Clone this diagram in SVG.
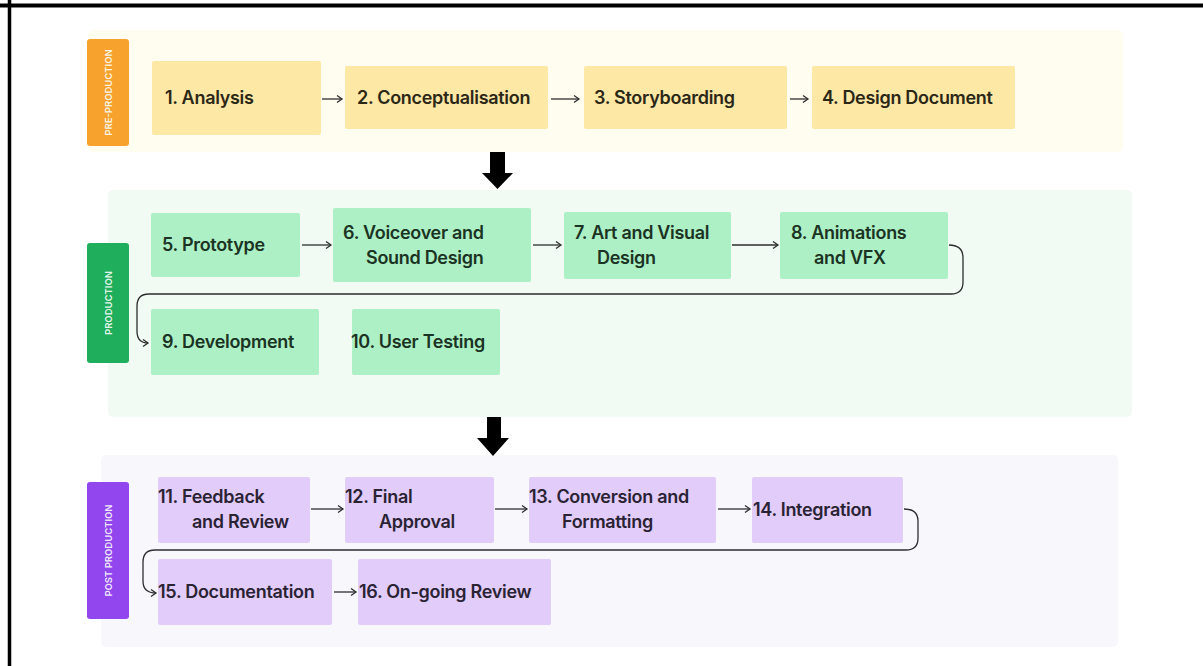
<svg xmlns="http://www.w3.org/2000/svg" width="1203" height="666" viewBox="0 0 1203 666">
<style>
.t{font-family:Inter,"Liberation Sans",sans-serif;font-weight:600;font-size:18px;letter-spacing:-0.3px}
.pre .t{fill:#2b2717}
.pro .t{fill:#1b3323}
.post .t{fill:#2a2334}
.lbl{font-family:Inter,"Liberation Sans",sans-serif;font-weight:600;font-size:9.5px;fill:#ffffff;fill-opacity:0.9;text-anchor:middle}
.bp{fill:#fde8a6}
.bg{fill:#adf0c6}
.bu{fill:#e2ccfa}
.c{fill:none;stroke:#2e2e2e;stroke-width:1.3}
</style>
<defs>
<marker id="ah" markerWidth="10" markerHeight="10" refX="7" refY="5" orient="auto" markerUnits="userSpaceOnUse">
<path d="M2,1.5 L7,5 L2,8.5" fill="none" stroke="#2e2e2e" stroke-width="1.3"/>
</marker>
</defs>
<rect width="1203" height="666" fill="#ffffff"/>
<line x1="0" y1="5.5" x2="1203" y2="5.5" stroke="#000" stroke-width="4"/>
<line x1="9.5" y1="0" x2="9.5" y2="666" stroke="#000" stroke-width="3.5"/>

<g id="section-pre">
<rect x="88" y="30" width="1035" height="122" rx="5" fill="#fffdf0"/>
<rect x="87" y="39" width="42" height="107" rx="3" fill="#f6a22c"/>
<text class="lbl" transform="translate(111.5 92.5) rotate(-90)">PRE-PRODUCTION</text>
</g>
<g id="section-pro">
<rect x="108" y="190" width="1024" height="227" rx="5" fill="#f1fbf4"/>
<rect x="87" y="243" width="42" height="120" rx="3" fill="#1fae5b"/>
<text class="lbl" transform="translate(111.5 303) rotate(-90)">PRODUCTION</text>
</g>
<g id="section-post">
<rect x="101" y="455" width="1017" height="192" rx="5" fill="#f8f7fc"/>
<rect x="87" y="482" width="42" height="137" rx="3" fill="#9146ee"/>
<text class="lbl" transform="translate(111.5 550.5) rotate(-90)">POST PRODUCTION</text>
</g>

<g class="pre">
<g id="n1"><rect class="bp" x="152" y="61" width="169" height="74" rx="2"/><text class="t" x="165" y="104">1. Analysis</text></g>
<g id="n2"><rect class="bp" x="345" y="66" width="203" height="63" rx="2"/><text class="t" x="357" y="104">2. Conceptualisation</text></g>
<g id="n3"><rect class="bp" x="584" y="66" width="203" height="63" rx="2"/><text class="t" x="594" y="104">3. Storyboarding</text></g>
<g id="n4"><rect class="bp" x="812" y="66" width="203" height="63" rx="2"/><text class="t" x="822" y="104">4. Design Document</text></g>
</g>

<g class="pro">
<g id="n5"><rect class="bg" x="151" y="213" width="149" height="64" rx="2"/><text class="t" x="162" y="251">5. Prototype</text></g>
<g id="n6"><rect class="bg" x="333" y="208" width="198" height="74" rx="2"/><text class="t" x="343" y="239">6. Voiceover and</text><text class="t" x="366" y="264">Sound Design</text></g>
<g id="n7"><rect class="bg" x="564" y="212" width="167" height="67" rx="2"/><text class="t" x="574" y="239">7. Art and Visual</text><text class="t" x="597" y="264">Design</text></g>
<g id="n8"><rect class="bg" x="780" y="212" width="168" height="67" rx="2"/><text class="t" x="791" y="239">8. Animations</text><text class="t" x="814" y="264">and VFX</text></g>
<g id="n9"><rect class="bg" x="151" y="309" width="168" height="66" rx="2"/><text class="t" x="162" y="348">9. Development</text></g>
<g id="n10"><rect class="bg" x="352" y="309" width="148" height="66" rx="2"/><text class="t" x="351" y="348">10. User Testing</text></g>
</g>

<g class="post">
<g id="n11"><rect class="bu" x="158" y="477" width="152" height="66" rx="2"/><text class="t" x="158" y="503">11. Feedback</text><text class="t" x="192" y="528">and Review</text></g>
<g id="n12"><rect class="bu" x="345" y="477" width="149" height="66" rx="2"/><text class="t" x="345" y="503">12. Final</text><text class="t" x="379" y="528">Approval</text></g>
<g id="n13"><rect class="bu" x="529" y="477" width="187" height="66" rx="2"/><text class="t" x="529" y="503">13. Conversion and</text><text class="t" x="562" y="528">Formatting</text></g>
<g id="n14"><rect class="bu" x="752" y="477" width="151" height="66" rx="2"/><text class="t" x="753" y="516">14. Integration</text></g>
<g id="n15"><rect class="bu" x="158" y="559" width="174" height="66" rx="2"/><text class="t" x="158" y="598">15. Documentation</text></g>
<g id="n16"><rect class="bu" x="358" y="559" width="193" height="66" rx="2"/><text class="t" x="359" y="598">16. On-going Review</text></g>
</g>

<g id="connectors">
<path class="c" d="M322 99 H342" marker-end="url(#ah)"/>
<path class="c" d="M551 99 H579" marker-end="url(#ah)"/>
<path class="c" d="M790 99 H808" marker-end="url(#ah)"/>
<polygon points="490,152 505,152 505,173 513,173 497.5,189 482,173 490,173" fill="#000"/>
<path class="c" d="M302 245 H331" marker-end="url(#ah)"/>
<path class="c" d="M533 245 H561" marker-end="url(#ah)"/>
<path class="c" d="M732 245 H778" marker-end="url(#ah)"/>
<path class="c" d="M949 245 Q963 245 963 258 V282 Q963 294 951 294 H149 Q137 294 137 306 V331 Q137 343 148 343" marker-end="url(#ah)"/>
<polygon points="487,417 501,417 501,438 509,438 493,456 477,438 487,438" fill="#000"/>
<path class="c" d="M311 509 H343" marker-end="url(#ah)"/>
<path class="c" d="M495 509 H527" marker-end="url(#ah)"/>
<path class="c" d="M718 509 H750" marker-end="url(#ah)"/>
<path class="c" d="M904 509 Q918 509 918 521 V538 Q918 550 906 550 H155 Q143 550 143 562 V581 Q143 593 156 593" marker-end="url(#ah)"/>
<path class="c" d="M334 592 H356" marker-end="url(#ah)"/>
</g>
</svg>
